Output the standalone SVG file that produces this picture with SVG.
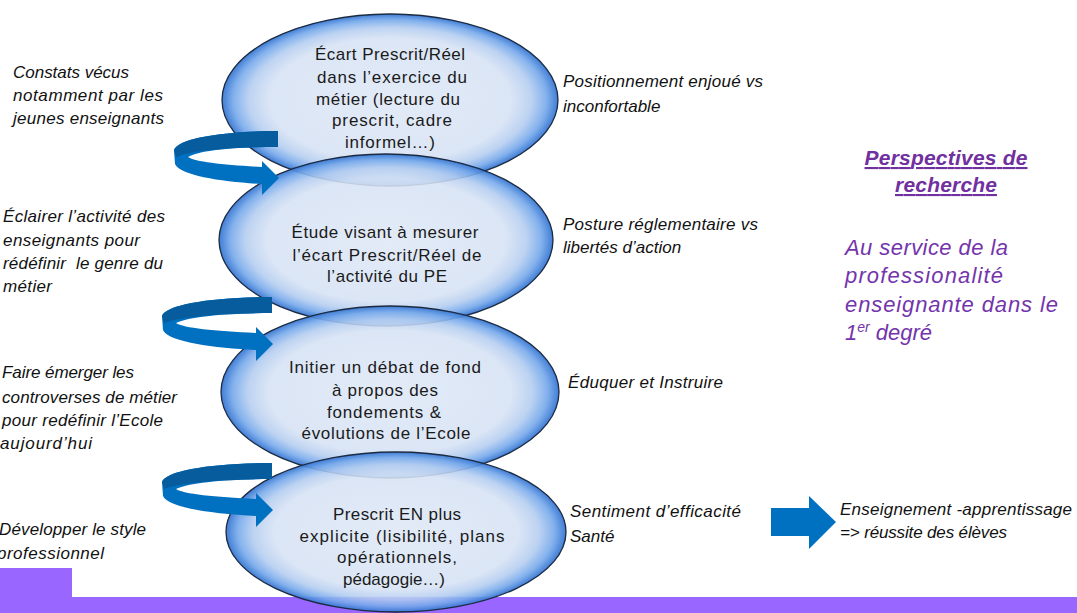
<svg xmlns="http://www.w3.org/2000/svg" width="1077" height="613" viewBox="0 0 1077 613">
<style>
text{font-family:"Liberation Sans",Arial,sans-serif;fill:#111;}
.it{font-style:italic;font-size:17px;}
.nt{font-size:17px;text-anchor:middle;fill:#1a1a1a;}
.ell{fill:url(#eg);stroke:#1c2b42;stroke-width:1.3;}
.pb{font-weight:bold;font-style:italic;font-size:21px;fill:#7030A0;text-anchor:middle;text-decoration:underline;}
.pp{font-style:italic;font-size:22px;fill:#7434AC;}
.arF{fill:#0070C0;}
.arB{fill:#065C9C;}
</style>
<defs>
<radialGradient id="eg" cx="0.5" cy="0.5" r="0.5">
<stop offset="0" stop-color="#dfe8f6" stop-opacity="0.88"/>
<stop offset="0.72" stop-color="#d6e2f4" stop-opacity="0.88"/>
<stop offset="0.84" stop-color="#b4cdf0" stop-opacity="0.88"/>
<stop offset="0.93" stop-color="#76a9eb" stop-opacity="0.9"/>
<stop offset="1" stop-color="#3676d2" stop-opacity="0.95"/>
</radialGradient>
</defs>
<rect width="1077" height="613" fill="#ffffff"/>
<g id="bar">
<rect x="0" y="568" width="72" height="45" fill="#9966FF"/>
<rect x="72" y="597" width="1005" height="16" fill="#9966FF"/>
</g>
<g id="node1">
<ellipse class="ell" cx="390" cy="100" rx="168" ry="86"/>
</g>
<g id="node2">
<ellipse class="ell" cx="386" cy="240" rx="167" ry="86"/>
</g>
<g id="node3">
<ellipse class="ell" cx="390" cy="392" rx="169" ry="86"/>
</g>
<g id="node4">
<ellipse class="ell" cx="396" cy="532" rx="170" ry="80"/>
</g>
<g id="labels-nodes">
<text class="nt" x="390" y="60" textLength="150">Écart Prescrit/Réel</text>
<text class="nt" x="392" y="83" textLength="150">dans l’exercice du</text>
<text class="nt" x="388" y="105" textLength="144">métier (lecture du</text>
<text class="nt" x="392" y="126" textLength="120">prescrit, cadre</text>
<text class="nt" x="390" y="148" textLength="90">informel…)</text>
<text class="nt" x="385" y="238" textLength="187">Étude visant à mesurer</text>
<text class="nt" x="387" y="261" textLength="189">l’écart Prescrit/Réel de</text>
<text class="nt" x="387" y="282" textLength="120">l’activité du PE</text>
<text class="nt" x="385" y="373" textLength="192">Initier un débat de fond</text>
<text class="nt" x="385" y="396" textLength="106">à propos des</text>
<text class="nt" x="384" y="418" textLength="114">fondements &amp;</text>
<text class="nt" x="386" y="439" textLength="169">évolutions de l’Ecole</text>
<text class="nt" x="397" y="520" textLength="128">Prescrit EN plus</text>
<text class="nt" x="402" y="542" textLength="205">explicite (lisibilité, plans</text>
<text class="nt" x="397" y="563" textLength="120">opérationnels,</text>
<text class="nt" x="394" y="585" textLength="102">pédagogie…)</text>
</g>
<g id="connectors">
<g id="arrow1">
<path class="arF" d="M278,131 C225,131 178,138 174,150 L175,164 C180,176 225,182 262,184 L262,195 L279,178 L262,161 L262,167 C225,165 195,162 188,157 C200,150 240,147 278,147 Z"/>
<path class="arB" d="M278,131 C225,131 178,138 174,150 L176,157 C190,150 240,147 278,147 Z"/>
</g>
<g id="arrow2">
<path class="arF" d="M272,297 C215,297 166,304 162,316 L163,330 C168,342 215,348 256,350 L256,361 L273,344 L256,327 L256,333 C215,331 183,328 176,323 C190,316 232,313 272,313 Z"/>
<path class="arB" d="M272,297 C215,297 166,304 162,316 L164,323 C180,316 232,313 272,313 Z"/>
</g>
<g id="arrow3" transform="translate(0,166)">
<path class="arF" d="M272,297 C215,297 166,304 162,316 L163,330 C168,342 215,348 256,350 L256,361 L273,344 L256,327 L256,333 C215,331 183,328 176,323 C190,316 232,313 272,313 Z"/>
<path class="arB" d="M272,297 C215,297 166,304 162,316 L164,323 C180,316 232,313 272,313 Z"/>
</g>
<path id="arrow4" class="arF" d="M771,508 L809,508 L809,496 L836,522 L809,549 L809,536 L771,536 Z"/>
</g>
<g id="left-texts">
<text class="it" x="13" y="78" textLength="116">Constats vécus</text>
<text class="it" x="13" y="101" textLength="150">notamment par les</text>
<text class="it" x="13" y="124" textLength="151">jeunes enseignants</text>
<text class="it" x="3" y="222" textLength="162">Éclairer l’activité des</text>
<text class="it" x="3" y="246" textLength="137">enseignants pour</text>
<text class="it" x="3" y="269" textLength="160" xml:space="preserve">rédéfinir  le genre du</text>
<text class="it" x="3" y="292" textLength="49">métier</text>
<text class="it" x="2" y="378" textLength="132">Faire émerger les</text>
<text class="it" x="2" y="403" textLength="175">controverses de métier</text>
<text class="it" x="2" y="426" textLength="161">pour redéfinir l’Ecole</text>
<text class="it" x="0" y="449" textLength="92">aujourd’hui</text>
<text class="it" x="-1" y="535" textLength="147">Développer le style</text>
<text class="it" x="-3" y="559" textLength="107">professionnel</text>
</g>
<g id="right-texts">
<text class="it" x="563" y="87" textLength="200">Positionnement enjoué vs</text>
<text class="it" x="563" y="112">inconfortable</text>
<text class="it" x="563" y="230" textLength="195">Posture réglementaire vs</text>
<text class="it" x="563" y="253">libertés d’action</text>
<text class="it" x="568" y="388" textLength="155">Éduquer et Instruire</text>
<text class="it" x="570" y="517" textLength="171">Sentiment d’efficacité</text>
<text class="it" x="570" y="542">Santé</text>
<text class="it" x="840" y="515" textLength="232">Enseignement -apprentissage</text>
<text class="it" x="840" y="538" textLength="167">=&gt; réussite des élèves</text>
</g>
<g id="perspectives">
<text class="pb" x="946" y="165" textLength="163">Perspectives de</text>
<text class="pb" x="946" y="192" textLength="102">recherche</text>
<text class="pp" x="845" y="255" textLength="163">Au service de la</text>
<text class="pp" x="845" y="283" textLength="158">professionalité</text>
<text class="pp" x="845" y="312" textLength="213">enseignante dans le</text>
<text class="pp" x="845" y="340">1<tspan font-size="14" dy="-8">er</tspan><tspan dy="8"> degré</tspan></text>
</g>
</svg>
